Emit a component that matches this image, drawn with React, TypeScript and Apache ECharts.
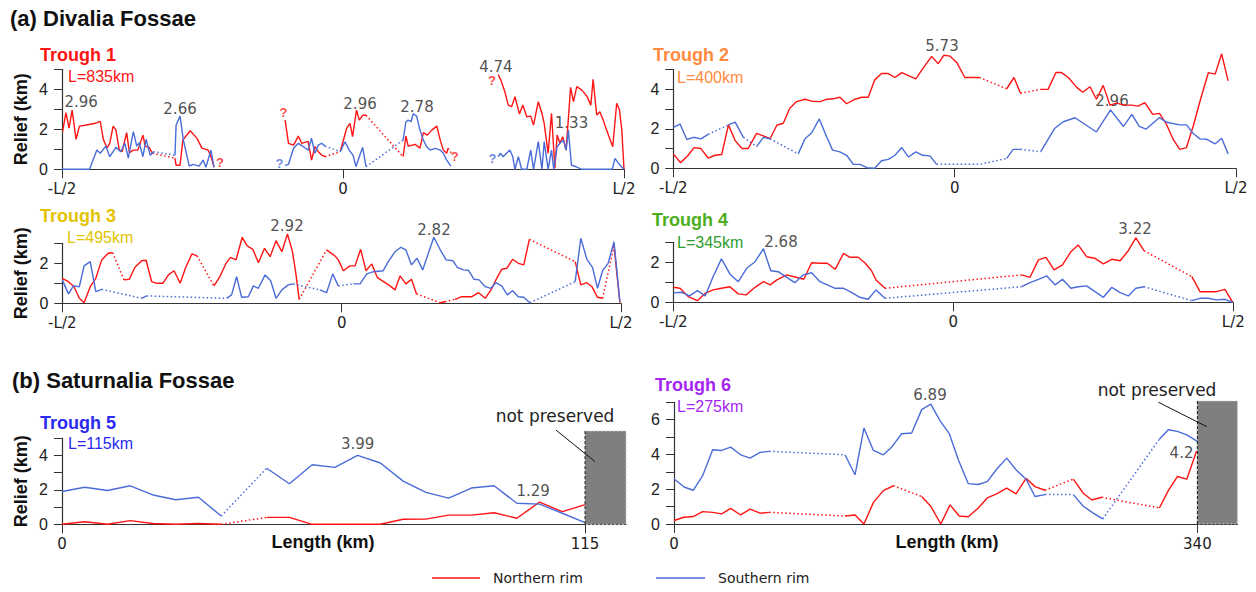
import React, { useEffect, useRef } from 'react';
import * as echarts from 'echarts';

const D = 1; // marks a dotted link from the previous point
type P = number[] | null;

const RED = '#ff1414';
const BLUE = '#4a6cd8';

// ---- Trough 1 (x: % of length from centre, -50..50) ----
const t1North: P[] = [
  [-49.9,1.88],[-49.3,2.83],[-48.75,2.06],[-48.2,2.96],[-47.5,1.5],[-46.9,2.16],[-45.9,2.2],[-45.0,2.25],[-44.1,2.3],[-43.2,2.4],[-42.65,1.5],[-42.0,1.06],[-41.5,1.3],[-40.9,2.16],[-40.4,1.96],[-39.8,0.96],[-39.3,0.88],[-38.5,1.83],[-38.0,0.83],[-37.3,0.96],[-36.5,0.96],[-35.6,1.71],[-35.2,1.16],[-34.5,1.1],[-33.9,0.8],[-29.9,0.56,D],[-29.7,0.2],[-29.0,0.2],[-28.5,1.46],[-27.2,1.93],[-26.0,1.56],[-25.1,1.06],[-24.0,0.96],[-23.4,0.56],[-22.95,0.1],
  null,
  [-10.3,2.46],[-9.7,1.3],[-8.8,1.21],[-7.95,1.66],[-7.35,1.3],[-6.8,1.35],[-6.2,1.4],[-5.6,0.46],[-5.0,1.13],[-4.4,0.88],[-3.8,0.71],[-3.2,0.63],[-0.5,0.88,D],[0.66,2.05],[1.25,2.3],[1.7,1.63],[2.4,2.96],[2.9,2.46],[3.5,2.7],[4.1,2.7],[10.7,0.63,D],[11.2,1.66],[11.6,1.16],[12.2,1.2],[12.8,1.25],[13.7,1.06],[14.3,1.83],[15.0,1.71],[15.8,1.96],[16.7,2.16],[17.3,1.46],[17.85,0.96],[18.45,0.8],[18.7,1.05],[19.3,0.8,D],
  null,
  [27.6,4.74],[28.1,4.46],[28.8,3.88],[29.4,3.21],[30.0,3.13],[30.6,3.63],[31.4,2.76],[32.0,3.21],[32.7,2.63],[33.4,2.66],[33.9,2.21],[34.75,3.38],[35.4,2.8],[35.8,2.3],[36.5,0.8],[37.1,2.8],[37.7,0.06],[38.1,1.71],[38.6,1.3],[39.1,1.63],[39.7,0.96],[40.5,4.1],[41.0,3.38],[41.6,4.13],[42.5,3.96],[43.4,3.66],[44.1,3.21],[44.5,4.5],[45.15,2.71],[45.7,2.88],[46.3,2.46],[46.9,1.96],[48.0,1.13],[48.7,3.3],[49.2,2.96],[49.6,2.0],[50,0],
];
const t1South: P[] = [
  [-50,0],[-45.1,0],[-43.8,0.96],[-43.2,0.8],[-42.2,1.16],[-41.5,0.63],[-40.4,1.1],[-39.55,0.88],[-38.8,1.3],[-38.2,0.56],[-37.3,1.88],[-36.7,1.16],[-36.25,1.33],[-35.6,0.63],[-35.05,1.5],[-34.3,0.7],[-33.75,0.88],[-29.9,0.7,D],[-29.7,2.2],[-29.0,2.66],[-28.4,1.46],[-27.35,0.16],[-26.7,0.25],[-25.6,0.16],[-24.9,0.46],[-24.4,0.1],[-23.5,0.96],[-22.95,0.1],
  null,
  [-10.3,0.2],[-9.7,0.25],[-8.8,1.05],[-7.95,1.3],[-7.05,1.13],[-6.2,0.96],[-5.6,1.55],[-5.0,0.8],[-4.4,1.21],[-3.8,1.3],[-3.2,1.16],[-0.5,0.88,D],[0.36,1.38],[1.1,0.96],[1.8,0.7],[2.3,0.13],[2.9,0.63],[3.5,1.1],[4.1,0.13],[10.7,1.46,D],[11.2,2.38],[11.6,2.46],[12.1,2.38],[12.5,2.78],[13.1,2.66],[13.7,1.96],[14.3,1.46],[14.9,1.13],[15.5,0.96],[16.4,1.05],[17.3,0.96],[17.85,0.8],[18.45,0.46],[19.2,0.16],
  null,
  [27.6,0.63],[28.0,0.8],[28.5,0.63],[29.1,0.8],[29.7,0.96],[30.2,0.63],[30.6,0],[31.2,0.63],[31.8,0],[32.7,0],[33.4,0.96],[33.9,0],[34.75,1.38],[35.4,0],[35.8,1.38],[36.5,0],[37.1,0.96],[37.5,0],[38.1,1.13],[38.6,1.3],[39.2,1.46],[39.7,0.96],[40.1,1.96],[40.65,0.2],[41.3,0.15],[42.5,0],[47.9,0],[48.4,0.55],[49.3,0.2],[50,0],
];
const t1Notes = [[-46.6,3.39,'2.96'],[-29.0,3.04,'2.66'],[3.03,3.29,'2.96'],[13.17,3.14,'2.78'],[27.2,5.14,'4.74'],[40.66,2.34,'1.33']];
const t1NorthQ = [[-21.9,0.33],[-10.6,2.86],[19.9,0.66],[26.5,4.43]];
const t1SouthQ = [[-11.3,0.3],[26.6,0.55]];

// ---- Trough 2 ----
const t2North: P[] = [
  [-50,0.73],[-48.7,0.28],[-47.4,0.65],[-46.3,1.05],[-45.1,1.0],[-43.8,0.52],[-42.6,0.66],[-41.4,0.7],[-40.2,2.2],[-39.0,1.4],[-37.8,1.0],[-36.7,1.0],[-35.2,1.77],[-34.0,1.64],[-32.8,1.5],[-31.6,2.18],[-30.45,2.28],[-29.3,3.04],[-28.1,3.38],[-26.6,3.5],[-25.4,3.4],[-23.9,3.38],[-22.7,3.5],[-21.6,3.52],[-20.4,3.6],[-19.2,3.27],[-17.7,3.5],[-16.5,3.6],[-15.35,3.6],[-14.2,4.48],[-13.0,4.8],[-11.8,4.8],[-10.6,4.6],[-9.4,4.85],[-8.2,4.7],[-6.9,4.53],[-5.6,5.07],[-4.1,5.67],[-2.9,5.3],[-1.9,5.73],[-0.8,5.68],[0.4,5.35],[1.8,4.6],[3.0,4.6],[4.4,4.6],[9.25,4.03,D],[10.55,4.6],[11.7,3.8],[15.2,4.0,D],[16.6,4.0],[18.0,4.85],[19.0,4.85],[20.2,4.6],[21.7,4.1],[22.75,3.85],[24.05,4.13],[25.2,3.5],[26.4,4.2],[27.6,3.2],[28.8,3.3],[30.1,3.2],[31.5,3.2],[32.6,3.15],[33.8,3.33],[35.2,2.73],[36.4,2.78],[37.55,2.28],[38.85,1.46],[40.0,0.96],[41.2,1.05],[42.4,2.14],[43.7,3.5],[45.1,4.85],[46.3,4.77],[47.45,5.8],[48.6,4.43],
];
const t2South: P[] = [
  [-50,2.07],[-48.8,2.24],[-47.6,1.46],[-46.4,1.57],[-45.1,1.49],[-43.8,1.72],[-40.2,2.2,D],[-39.0,2.34],[-37.55,1.57],[-35.2,1.1,D],[-34.0,1.57],[-32.8,1.49],[-27.8,0.73,D],[-26.6,1.5],[-25.4,1.8],[-24.05,2.5],[-22.9,1.7],[-21.7,0.92],[-20.4,0.83],[-19.2,0.66],[-18.0,0.2],[-16.8,0.2],[-15.6,0.03],[-14.2,0],[-13.0,0.38],[-11.8,0.45],[-10.6,0.66],[-9.4,1.05],[-8.2,0.57],[-6.9,0.83],[-5.7,0.66],[-4.4,0.63],[-3.2,0.2],[4.5,0.2,D],[9.25,0.5,D],[10.4,0.96],[11.7,0.96],[15.3,0.84,D],[17.8,2.03],[19.3,2.36],[21.4,2.56],[25.2,1.84],[27.7,2.96],[30.0,2.12],[31.5,2.73],[32.8,2.12],[34.0,1.98],[36.4,2.57],[37.7,2.33],[40.0,2.2],[41.2,2.2],[42.4,1.76],[43.6,1.49],[44.8,1.47],[46.3,1.24],[47.45,1.52],[48.6,0.73],
];
const t2Notes = [[-2.25,6.21,'5.73'],[27.96,3.39,'2.96']];

// ---- Trough 3 ----
const t3North: P[] = [
  [-50,1.25],[-48.9,1.08],[-47.9,0.83],[-46.95,0.25],[-46.1,0.03],[-45.0,0.83],[-44.0,1.25],[-42.95,2.17],[-41.8,2.5],[-41.0,2.53],[-38.95,1.17,D],[-38.0,1.2],[-37.0,1.8],[-35.8,2.13],[-35.0,2.15],[-34.0,1.08],[-33.1,1.0],[-32.0,1.0],[-31.0,1.42],[-30.0,1.63],[-28.9,1.0],[-27.9,1.8],[-26.8,2.47],[-25.9,2.37],[-22.85,0.87,D],[-21.8,1.33],[-20.7,2.0],[-19.9,2.3],[-18.9,2.17],[-17.8,3.3],[-16.9,2.87],[-15.9,2.7],[-14.9,2.03],[-13.8,2.75],[-12.8,2.33],[-11.75,3.13],[-10.7,2.58],[-9.7,3.47],[-8.8,2.58],[-8.2,1.5],[-7.6,0.2],[-2.7,2.67,D],[-1.2,2.37],[-0.6,2.17],[0.3,1.63],[1.5,1.87],[2.4,1.87],[3.4,2.7],[4.35,1.63],[5.4,1.97],[6.4,1.28],[7.5,1.08],[8.65,0.87],[9.55,0.67],[10.45,1.37],[11.5,0.97],[12.5,1.2],[13.4,0.47],[17.6,0.03,D],[18.5,0.08],[20.3,0.2,D],[21.5,0.33],[23.3,0.33],[24.5,0.53],[25.7,0.25],[26.9,0.75],[27.75,1.25],[28.65,1.7],[29.55,1.75],[30.6,2.2],[31.6,2.0],[32.6,1.92],[33.6,3.2],[41.8,2.08,D],[42.8,0.92],[43.9,1.03],[44.8,0.83],[45.8,0.3],[46.7,0.25],[48.75,2.87,D],[49.8,0.03],
];
const t3South: P[] = [
  [-50,1.17],[-48.9,0.47],[-48.0,0.87],[-46.95,0.83],[-46.1,1.87],[-45.0,2.08],[-44.0,0.58],[-42.95,0.7],[-35.8,0.25,D],[-34.9,0.37],[-20.6,0.25,D],[-19.7,0.42],[-18.8,1.33],[-17.9,0.3],[-16.7,0.33],[-15.8,0.87],[-14.9,0.75],[-13.7,1.42],[-12.7,1.13],[-11.75,0.25],[-10.7,0.67],[-9.55,0.92],[-8.65,0.97],[-3.9,0.67,D],[-2.7,0.53],[-1.6,1.47],[-0.6,0.87],[2.1,0.97,D],[3.3,0.97],[4.5,1.47],[5.7,1.58],[7.45,1.63],[8.35,2.08],[9.55,2.58],[10.6,2.8],[11.5,2.67],[12.5,1.92],[13.5,2.25],[14.5,1.67],[16.5,3.3],[17.6,2.7],[18.7,2.17],[19.9,2.13],[20.7,1.8],[21.8,1.67],[22.7,1.65],[23.7,1.2],[24.6,1.17],[25.7,0.83],[26.7,0.75],[27.6,1.03],[28.65,0.87],[29.65,0.42],[30.6,0.63],[31.6,0.33],[32.6,0.3],[33.7,0.03],[41.8,1.08,D],[42.8,3.25],[43.9,2.2],[44.9,1.8],[45.8,0.75],[46.7,1.63],[47.7,2.0],[48.75,3.08],[49.8,0.08],
];
const t3Notes = [[-9.78,3.89,'2.92'],[16.53,3.67,'2.82']];

// ---- Trough 4 ----
const t4North: P[] = [
  [-50,0.75],[-48.8,0.7],[-47.3,0.28],[-45.7,0.08],[-44.3,0.45],[-42.9,0.62],[-41.4,0.7],[-39.9,0.78],[-38.4,0.42],[-37.0,0.37],[-35.4,0.75],[-33.9,1.03],[-32.7,0.87],[-31.5,1.12],[-29.75,1.37],[-28.1,1.25],[-26.7,1.15],[-25.3,1.98],[-23.8,1.95],[-22.5,1.95],[-21.1,1.65],[-19.6,2.45],[-18.45,2.25],[-17.0,2.25],[-15.8,1.98],[-14.6,1.58],[-13.8,1.12],[-12.2,0.7],[12.2,1.37,D],[13.7,1.25],[15.2,2.12],[16.55,2.25],[18.0,1.62],[19.5,1.87],[21.0,2.53],[22.3,2.87],[23.8,2.28],[25.3,2.2],[26.8,1.92],[28.3,2.15],[29.8,2.08],[31.25,2.58],[32.6,3.22],[34.05,2.58],[42.6,1.28,D],[44.05,0.53],[45.5,0.53],[47.0,0.53],[48.5,0.65],[49.9,0],
];
const t4South: P[] = [
  [-50,0.47],[-48.5,0.5],[-47.1,0.32],[-45.7,0.58],[-44.3,0.32],[-42.9,1.28],[-41.4,2.17],[-39.9,1.42],[-38.4,1.03],[-36.9,1.7],[-35.4,2.03],[-33.9,2.68],[-32.6,1.58],[-31.25,1.53],[-29.75,1.25],[-28.3,0.98],[-26.8,1.37],[-25.3,1.48],[-23.8,1.03],[-22.5,0.87],[-21.1,0.7],[-19.6,0.7],[-18.1,0.48],[-16.7,0.25],[-15.2,0.15],[-13.8,0.62],[-12.2,0.2],[12.2,0.78,D],[13.7,0.98],[15.2,1.15],[16.7,1.32],[18.2,0.87],[19.5,1.15],[21.0,0.7],[22.3,0.78],[23.8,0.82],[25.3,0.53],[26.8,0.25],[28.3,0.75],[29.8,0.48],[31.25,0.32],[32.6,0.7],[34.05,0.78],[42.6,0.08,D],[44.05,0.2],[45.5,0.2],[47.0,0.12],[48.5,0.15],[49.9,0],
];
const t4Notes = [[-30.77,3.02,'2.68'],[32.45,3.67,'3.22']];

// ---- Trough 5 (km) ----
const t5North: P[] = [
  [0,0],[5,0.15],[10,0],[15,0.21],[20,0.05],[25,0],[30,0.05],[35,0],[45,0.4,D],[50,0.4],[55,0],[60,0],[65,0],[70,0],[75,0.29],[80,0.3],[85,0.53],[90,0.53],[95,0.67],[100,0.35],[105,1.29],[110,0.73],[115,1.14],
];
const t5South: P[] = [
  [0,1.9],[5,2.15],[10,1.96],[15,2.23],[20,1.7],[25,1.42],[30,1.57],[35,0.48],[45,3.25,D],[50,2.35],[55,3.45],[60,3.3],[65,3.99],[70,3.55],[75,2.5],[80,1.85],[85,1.52],[90,2.1],[95,2.23],[100,1.22],[105,1.17],[110,0.64],[115,0.1],
];
const t5Notes = [[65.0,4.64,'3.99'],[103.6,1.94,'1.29']];

// ---- Trough 6 (km) ----
const t6North: P[] = [
  [0,0.2],[6.5,0.39],[12.5,0.43],[18.6,0.71],[25.1,0.67],[31.0,0.58],[36.8,0.9],[43.3,0.52],[49.4,0.85],[55.9,0.62],[61.9,0.67],[111.1,0.46,D],[117.6,0.52],[123.4,0],[129.5,1.23],[136.0,1.92],[142.5,2.2],[160.9,1.58,D],[166.8,1.02],[173.3,0],[179.3,1.1],[185.3,0.46],[191.2,0.42],[197.7,0.92],[203.5,1.5],[209.6,1.73],[216.1,2.06],[222.2,1.73],[228.7,2.63],[234.5,2.15],[241.0,1.94],[259.4,2.58,D],[265.9,1.77],[271.4,1.38],[277.9,1.54],[315.3,0.92,D],[321.1,1.92],[327.0,2.73],[333.1,2.58],[339.5,4.2],
];
const t6South: P[] = [
  [0,2.6],[6.5,2.13],[12.5,1.94],[18.6,2.78],[25.1,4.27],[31.0,4.23],[36.8,4.42],[43.3,3.98],[49.4,3.79],[55.9,4.12],[61.9,4.18],[111.1,3.98,D],[117.6,2.83],[123.4,5.52],[129.5,4.23],[136.0,3.98],[141.4,4.42],[147.9,5.19],[154.4,5.23],[160.9,6.58],[166.8,6.89],[172.8,5.95],[178.8,5.2],[184.7,3.7],[191.2,2.32],[197.7,2.27],[203.5,2.44],[209.6,3.15],[216.1,3.79],[222.2,3.12],[228.7,2.58],[234.5,1.58],[241.0,1.69],[259.4,1.69,D],[265.9,1.02],[272.4,0.63],[278.5,0.29],[315.3,4.88,D],[321.1,5.42],[327.0,5.33],[333.1,5.13],[340,4.75],
];
const t6Notes = [[166.3,7.44,'6.89'],[329.7,4.08,'4.2']];

// not-preserved zones: [from, to, top], leader line and label positions (data units)
const lostZones = [
  { gi: 4, from: 115, to: 124, top: 5.4, leader: [[108.6, 5.46], [117.2, 3.63]], label: [108.4, 6.25] },
  { gi: 5, from: 340, to: 366, top: 7.07, leader: [[314.7, 7.0], [346.1, 5.6]], label: [313.8, 7.7] },
];

const troughTitles = ['Trough 1', 'Trough 2', 'Trough 3', 'Trough 4', 'Trough 5', 'Trough 6'];
const troughLengths = ['L=835km', 'L=400km', 'L=495km', 'L=345km', 'L=115km', 'L=275km'];
const titleColors = ['#ff1414', '#ff8a3d', '#e3c300', '#4cae1c', '#2a2af0', '#a526f2'];
const lengthColors = ['#ff1414', '#ff8a3d', '#e3c300', '#2e9e2e', '#2a2af0', '#a526f2'];
const titlePos = [[40, 55, 68, 76], [653, 55, 677, 77], [40, 216, 67, 237], [652, 220, 677, 242], [40, 423, 68, 443], [655, 385, 677, 406]];

const xMin = [-50, -50, -50, -50, 0, 0];
const xMax = [50, 50, 50, 50, 124, 366];
const xTicks = [[-50, 0, 50], [-50, 0, 50], [-50, 0, 50], [-50, 0, 50], [0, 115], [0, 340]];
const yMax = [5, 5, 3, 3, 5, 7];
const yLabels = [[0, 2, 4], [0, 2, 4], [0, 2], [0, 2], [0, 2, 4], [0, 2, 4, 6]];
const grids = [
  { left: 62, top: 69.3, width: 562, height: 100 },
  { left: 673.3, top: 69.6, width: 562.7, height: 98.7 },
  { left: 62.3, top: 243.3, width: 558.7, height: 60 },
  { left: 673.3, top: 242.3, width: 560, height: 60 },
  { left: 62, top: 438, width: 564, height: 86.3 },
  { left: 674, top: 402.3, width: 563.4, height: 121.7 },
];

function lineSeries(pts: P[], color: string, name: string, gi: number) {
  const parts: { dotted: boolean; data: number[][] }[] = [];
  let cur: { dotted: boolean; data: number[][] } | null = null;
  let prev: number[] | null = null;
  for (const p of pts) {
    if (!p) { prev = null; cur = null; continue; }
    if (prev) {
      const dotted = !!p[2];
      if (cur && cur.dotted === dotted) cur.data.push([p[0], p[1]]);
      else {
        cur = { dotted, data: [[prev[0], prev[1]], [p[0], p[1]]] };
        parts.push(cur);
      }
    }
    prev = p;
  }
  return parts.map((s) => ({
    type: 'line', name, xAxisIndex: gi, yAxisIndex: gi, data: s.data,
    symbol: 'none', clip: false, silent: true,
    lineStyle: { color, width: s.dotted ? 1.5 : 1.4, type: s.dotted ? [1.5, 2.5] : 'solid' },
    itemStyle: { color },
  }));
}

function noteSeries(notes: any[], gi: number, color: string, size: number, bold: boolean) {
  return {
    type: 'scatter', xAxisIndex: gi, yAxisIndex: gi, silent: true, clip: false,
    symbolSize: 1, itemStyle: { color: 'rgba(0,0,0,0)' },
    data: notes.map((n) => [n[0], n[1], n[2] ?? '?']),
    label: {
      show: true, position: 'inside', formatter: (p: any) => p.data[2],
      color, fontSize: size, fontWeight: bold ? 'bold' : 'normal',
      fontFamily: bold ? 'Liberation Sans' : 'DejaVu Sans',
    },
  };
}

const App: React.FC = () => {
  const ref = useRef<HTMLDivElement>(null);
  useEffect(() => {
    if (!ref.current) return;
    const chart = echarts.init(ref.current, undefined, { renderer: 'svg' });
    const norths = [t1North, t2North, t3North, t4North, t5North, t6North];
    const souths = [t1South, t2South, t3South, t4South, t5South, t6South];
    const notes = [t1Notes, t2Notes, t3Notes, t4Notes, t5Notes, t6Notes];
    const series: any[] = [];
    for (let g = 0; g < 6; g++) {
      series.push(...lineSeries(norths[g], RED, 'Northern rim', g));
      series.push(...lineSeries(souths[g], BLUE, 'Southern rim', g));
      series.push(noteSeries(notes[g], g, '#222', 15, false));
    }
    series.push(noteSeries(t1NorthQ, 0, RED, 13, true));
    series.push(noteSeries(t1SouthQ, 0, BLUE, 13, true));

    const xAxis = grids.map((_, g) => ({
      type: 'value', gridIndex: g, min: xMin[g], max: xMax[g],
      axisLine: { show: true, onZero: false, lineStyle: { color: '#333', width: 1.2 } },
      axisTick: { show: true, customValues: xTicks[g], length: 9, lineStyle: { color: '#333' } },
      axisLabel: {
        show: true, customValues: xTicks[g], margin: 12, color: '#222', fontSize: 15, fontFamily: 'DejaVu Sans',
        formatter: (v: number) => (g < 4 ? (v < 0 ? '-L/2' : v > 0 ? 'L/2' : '0') : String(v)),
      },
      splitLine: { show: false },
    }));
    const yAxis = grids.map((_, g) => {
      const ticks: number[] = [];
      for (let i = 0; i <= yMax[g]; i++) ticks.push(i);
      return {
        type: 'value', gridIndex: g, min: 0, max: yMax[g], interval: 1, position: 'left',
        axisLine: { show: true, onZero: false, lineStyle: { color: '#333', width: 1.2 } },
        axisTick: { show: true, customValues: ticks, length: 8, lineStyle: { color: '#333' } },
        axisLabel: { customValues: yLabels[g], margin: 14, color: '#222', fontSize: 16, fontFamily: 'Liberation Sans' },
        splitLine: { show: false },
        name: g % 2 === 0 ? 'Relief (km)' : '',
        nameLocation: 'middle', nameGap: 32,
        nameTextStyle: { fontWeight: 'bold', fontSize: 18, fontFamily: 'Liberation Sans', color: '#111' },
      };
    });

    chart.setOption({
      animation: false,
      backgroundColor: '#ffffff',
      grid: grids.map((g) => ({ ...g, containLabel: false, outerBoundsMode: 'none' })),
      xAxis, yAxis, series,
    });

    const txt = (x: number, y: number, text: string, font: string, fill: string, align = 'left') => ({
      type: 'text', x, y, silent: true, style: { text, font, fill, align, verticalAlign: 'middle' },
    });
    const graphic: any[] = [
      txt(10, 18, '(a) Divalia Fossae', 'bold 22px "Liberation Sans"', '#111'),
      txt(12, 380, '(b) Saturnalia Fossae', 'bold 22px "Liberation Sans"', '#111'),
      txt(323, 542, 'Length (km)', 'bold 18px "Liberation Sans"', '#111', 'center'),
      txt(947, 542, 'Length (km)', 'bold 18px "Liberation Sans"', '#111', 'center'),
      { type: 'line', silent: true, shape: { x1: 432, y1: 578, x2: 480, y2: 578 }, style: { stroke: RED, lineWidth: 1.4 } },
      txt(493, 578, 'Northern rim', '14px "DejaVu Sans"', '#222'),
      { type: 'line', silent: true, shape: { x1: 656, y1: 578, x2: 705, y2: 578 }, style: { stroke: BLUE, lineWidth: 1.4 } },
      txt(718, 578, 'Southern rim', '14px "DejaVu Sans"', '#222'),
    ];
    for (let g = 0; g < 6; g++) {
      const p = titlePos[g];
      graphic.push(txt(p[0], p[1], troughTitles[g], 'bold 18px "Liberation Sans"', titleColors[g]));
      graphic.push(txt(p[2], p[3], troughLengths[g], '16px "Liberation Sans"', lengthColors[g]));
    }
    const toPx = (gi: number, x: number, y: number) =>
      chart.convertToPixel({ xAxisIndex: gi, yAxisIndex: gi } as any, [x, y]) as unknown as number[];
    for (const z of lostZones) {
      const a = toPx(z.gi, z.from, 0);
      const b = toPx(z.gi, z.to, z.top);
      graphic.push({
        type: 'rect', silent: true, z: 10,
        shape: { x: a[0], y: b[1], width: b[0] - a[0], height: a[1] - b[1] },
        style: { fill: '#7f7f7f', stroke: '#c4c4c4', lineWidth: 1, lineDash: [2, 2] },
      });
      graphic.push({
        type: 'line', silent: true, z: 11,
        shape: { x1: a[0], y1: b[1], x2: a[0], y2: a[1] },
        style: { stroke: '#111', lineWidth: 1, lineDash: [3, 2] },
      });
      const l0 = toPx(z.gi, z.leader[0][0], z.leader[0][1]);
      const l1 = toPx(z.gi, z.leader[1][0], z.leader[1][1]);
      graphic.push({
        type: 'line', silent: true, z: 12,
        shape: { x1: l0[0], y1: l0[1], x2: l1[0], y2: l1[1] },
        style: { stroke: '#111', lineWidth: 1 },
      });
      const t = toPx(z.gi, z.label[0], z.label[1]);
      graphic.push({ ...txt(t[0], t[1], 'not preserved', '17px "DejaVu Sans"', '#222', 'center'), z: 12 });
    }
    chart.setOption({ graphic });
    return () => chart.dispose();
  }, []);
  return <div ref={ref} style={{ position: 'absolute', left: 0, top: 0, width: 1256, height: 592 }} />;
};

export default App;
